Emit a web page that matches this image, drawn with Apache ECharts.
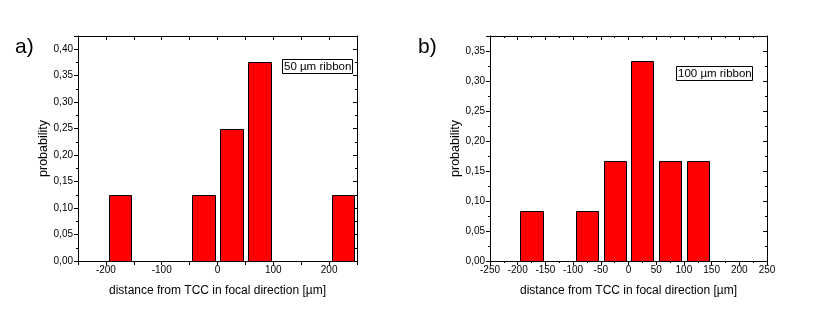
<!DOCTYPE html>
<html><head><meta charset="utf-8">
<script src="https://cdn.jsdelivr.net/npm/echarts@6/dist/echarts.min.js"></script>
<style>html,body{margin:0;padding:0;background:#fff}#c{width:828px;height:315px}</style>
</head><body><div id="c"></div>
<script>
// ---- data ----
const binCentersA = [-175, -25, 25, 75, 225];
const probA = [0.125, 0.125, 0.25, 0.375, 0.125];
const binCentersB = [-175, -75, -25, 25, 75, 125];
const probB = [0.0833, 0.0833, 0.1667, 0.3333, 0.1667, 0.1667];
const xLabelsA = [-200, -100, 0, 100, 200];
const xLabelsB = [-250, -200, -150, -100, -50, 0, 50, 100, 150, 200, 250];
const yLabelsA = [0, 0.05, 0.10, 0.15, 0.20, 0.25, 0.30, 0.35, 0.40];
const yLabelsB = [0, 0.05, 0.10, 0.15, 0.20, 0.25, 0.30, 0.35];
const panelLabels = ['a)', 'b)'];
const seriesNames = ['50 µm ribbon', '100 µm ribbon'];
const xName = 'distance from TCC in focal direction [µm]';
const yName = 'probability';

// ---- styles ----
const FONT = 'Liberation Sans, Arial, sans-serif';
const BIN_HALF = 20;
const black = '#000';

function pairs(xs, ys) { return xs.map((x, i) => [x, ys[i]]); }
function near(list, v) { return list.some(t => Math.abs(t - v) < 1e-6); }

function renderBar(params, api) {
  const x = api.value(0), y = api.value(1);
  const p1 = api.coord([x - BIN_HALF, y]);
  const p2 = api.coord([x + BIN_HALF, 0]);
  const x0 = Math.round(p1[0]) + 0.5, x1 = Math.round(p2[0]) + 0.5;
  const y0 = Math.round(p1[1]) + 0.5, y1 = Math.round(p2[1]) + 0.5;
  return {
    type: 'rect',
    shape: { x: x0, y: y0, width: x1 - x0, height: y1 - y0 },
    style: { fill: '#ff0000', stroke: black, lineWidth: 1 }
  };
}

const line = { show: true, onZero: false, lineStyle: { color: black, width: 1 } };
const lbl = { color: black, fontSize: 10, fontFamily: FONT };

function xBottom(gridIndex, labels, minor) {
  return {
    type: 'value', gridIndex, position: 'bottom', min: -250, max: 250, interval: 50,
    axisLine: line,
    axisTick: { show: true, inside: false, length: 4, lineStyle: { color: black } },
    minorTick: { show: minor, splitNumber: 2, length: 2, lineStyle: { color: black } },
    axisLabel: Object.assign({ margin: 4, formatter: v => near(labels, v) ? String(v) : '' }, lbl),
    splitLine: { show: false },
    name: xName, nameLocation: 'middle', nameGap: 24,
    nameTextStyle: { color: black, fontSize: 12, fontFamily: FONT }
  };
}
function xTop(gridIndex, minor) {
  return {
    type: 'value', gridIndex, position: 'top', min: -250, max: 250, interval: 50,
    axisLine: line,
    axisTick: { show: true, inside: true, length: 4, lineStyle: { color: black } },
    minorTick: { show: minor, splitNumber: 2, length: 2, lineStyle: { color: black } },
    axisLabel: { show: false }, splitLine: { show: false }
  };
}
function yLeft(gridIndex, max, labels) {
  return {
    type: 'value', gridIndex, position: 'left', min: 0, max, interval: 0.05,
    axisLine: line,
    axisTick: { show: true, inside: false, length: 4, lineStyle: { color: black } },
    minorTick: { show: true, splitNumber: 2, length: 2, lineStyle: { color: black } },
    axisLabel: Object.assign({ margin: 5, showMaxLabel: false,
      formatter: v => near(labels, v) ? v.toFixed(2).replace('.', ',') : '' }, lbl),
    splitLine: { show: false },
    name: yName, nameLocation: 'middle', nameGap: 27,
    nameTextStyle: { color: black, fontSize: 12.5, fontFamily: FONT }
  };
}
function yRight(gridIndex, max) {
  return {
    type: 'value', gridIndex, position: 'right', min: 0, max, interval: 0.05,
    axisLine: line,
    axisTick: { show: true, inside: true, length: 4, lineStyle: { color: black } },
    minorTick: { show: true, splitNumber: 2, length: 2, lineStyle: { color: black } },
    axisLabel: { show: false }, splitLine: { show: false }
  };
}

const chart = echarts.init(document.getElementById('c'), null, { renderer: 'canvas' });
chart.setOption({
  animation: false,
  backgroundColor: '#fff',
  title: [
    { text: panelLabels[0], left: 15, top: 37, padding: 0,
      textStyle: { fontSize: 21, fontWeight: 'normal', color: black, fontFamily: FONT } },
    { text: panelLabels[1], left: 418, top: 37, padding: 0,
      textStyle: { fontSize: 21, fontWeight: 'normal', color: black, fontFamily: FONT } },
    { text: seriesNames[0], left: 282, top: 59, padding: [2, 1, 1, 2], borderColor: black, borderWidth: 1,
      textStyle: { fontSize: 11.5, fontWeight: 'normal', color: black, fontFamily: FONT } },
    { text: seriesNames[1], left: 676, top: 66, padding: [2, 1, 1, 2], borderColor: black, borderWidth: 1,
      textStyle: { fontSize: 11.5, fontWeight: 'normal', color: black, fontFamily: FONT } }
  ],
  grid: [
    { left: 78, top: 36, width: 279, height: 225 },
    { left: 490, top: 36, width: 277, height: 225 }
  ],
  xAxis: [xBottom(0, xLabelsA, false), xTop(0, false), xBottom(1, xLabelsB, true), xTop(1, true)],
  yAxis: [yLeft(0, 0.425, yLabelsA), yRight(0, 0.425), yLeft(1, 0.375, yLabelsB), yRight(1, 0.375)],
  series: [
    { name: seriesNames[0], type: 'custom', xAxisIndex: 0, yAxisIndex: 0, renderItem: renderBar,
      encode: { x: 0, y: 1 }, data: pairs(binCentersA, probA) },
    { name: seriesNames[1], type: 'custom', xAxisIndex: 2, yAxisIndex: 2, renderItem: renderBar,
      encode: { x: 0, y: 1 }, data: pairs(binCentersB, probB) }
  ]
});
</script>
</body></html>
